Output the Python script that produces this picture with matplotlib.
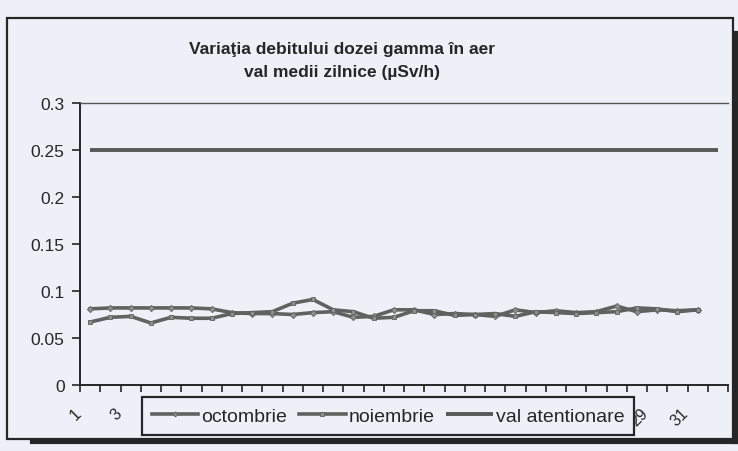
import matplotlib
matplotlib.use('Agg')
import matplotlib.pyplot as plt
import matplotlib.transforms as mtransforms
from matplotlib.patches import Rectangle
from matplotlib.lines import Line2D

# ---------------- data ----------------
categories = list(range(1, 33))          # category slots on the x axis
days = list(range(1, 32))                # days of the month
octombrie = [0.081, 0.082, 0.082, 0.082, 0.082, 0.082, 0.081, 0.077, 0.076, 0.076,
             0.075, 0.077, 0.078, 0.072, 0.073, 0.080, 0.080, 0.075, 0.076, 0.075,
             0.073, 0.080, 0.077, 0.079, 0.077, 0.078, 0.084, 0.078, 0.080, 0.079, 0.080]
noiembrie = [0.067, 0.072, 0.073, 0.066, 0.072, 0.071, 0.071, 0.076, 0.077, 0.078,
             0.087, 0.091, 0.080, 0.078, 0.071, 0.072, 0.079, 0.079, 0.074, 0.075,
             0.076, 0.073, 0.078, 0.077, 0.076, 0.077, 0.078, 0.082, 0.081, 0.078, 0.080]
val_atentionare = [0.25] * 32
x_label_days = list(range(1, 32, 2))
x_tick_labels = [str(d) for d in x_label_days]
y_ticks = [0, 0.05, 0.1, 0.15, 0.2, 0.25, 0.3]
y_tick_labels = ['0', '0.05', '0.1', '0.15', '0.2', '0.25', '0.3']
title = 'Variaţia debitului dozei gamma în aer\nval medii zilnice (µSv/h)'

# ---------------- style ----------------
plt.rcParams['font.family'] = ['Liberation Sans', 'DejaVu Sans']
bg = '#edf1f7'
ink = '#262626'
line_col = '#5f635f'
mark_col = '#8c908c'

W, H = 738, 452
fig = plt.figure(figsize=(W / 100, H / 100), dpi=100)
fig.patch.set_facecolor(bg)

left, right, top, bottom = 80, 728, 104, 386
ax = fig.add_axes([left / W, 1 - bottom / H, (right - left) / W, (bottom - top) / H])
ax.set_facecolor(bg)

ax.plot(categories, val_atentionare, color='#565a56', lw=2.8, solid_capstyle='butt',
        label='val atentionare', zorder=3)
ax.plot(days, octombrie, color=line_col, lw=2.6, marker='D', ms=3.2,
        mfc=mark_col, mec=line_col, mew=0.6, label='octombrie', zorder=4)
ax.plot(days, noiembrie, color=line_col, lw=2.6, marker='s', ms=3.0,
        mfc=mark_col, mec=line_col, mew=0.6, label='noiembrie', zorder=4)

ax.set_xlim(0.5, 32.5)
ax.set_ylim(0, 0.3)

# major ticks at category boundaries, labels drawn at category centres
ax.set_xticks([c - 0.5 for c in categories] + [categories[-1] + 0.5])
ax.set_xticklabels([])
ax.tick_params(axis='x', which='major', direction='out', length=5, width=1.2, color=ink)
lab_tr = ax.get_xaxis_transform() + mtransforms.ScaledTranslation(-6 / 100, -20 / 100,
                                                                   fig.dpi_scale_trans)
for d, s in zip(x_label_days, x_tick_labels):
    ax.text(d, 0, s, transform=lab_tr, rotation=45, ha='right', va='top',
            fontsize=11.5, color=ink, clip_on=False, zorder=2)

ax.set_yticks(y_ticks)
ax.set_yticklabels(y_tick_labels, fontsize=12.5, color=ink)
ax.tick_params(axis='y', direction='out', length=6, width=1.2, color=ink, pad=5)

for s in ('left', 'bottom'):
    ax.spines[s].set_color(ink)
    ax.spines[s].set_linewidth(1.4)
ax.spines['top'].set_color('#555555')
ax.spines['top'].set_linewidth(1.0)
ax.spines['right'].set_visible(False)

# title
fig.text(342 / W, 1 - 61 / H, title, ha='center', va='center', fontsize=12.5,
         fontweight='bold', color=ink, linespacing=1.6)

# legend (drawn over the x tick labels, as in the reference)
order = [1, 2, 0]
handles, labels = ax.get_legend_handles_labels()
leg = fig.legend([handles[i] for i in order], [labels[i] for i in order],
                 loc='center', bbox_to_anchor=(388 / W, 1 - 417 / H), ncol=3,
                 fontsize=14, frameon=True, fancybox=False, handlelength=2.4,
                 handletextpad=0.15, columnspacing=0.6, borderpad=0.5,
                 borderaxespad=0, markerscale=0.8)
leg.get_frame().set_edgecolor(ink)
leg.get_frame().set_linewidth(1.6)
leg.get_frame().set_facecolor(bg)
leg.get_frame().set_alpha(1)
leg.set_zorder(10)
for t in leg.get_texts():
    t.set_color(ink)

# outer chart frame with shadow
fx0, fx1, fy0, fy1 = 7, 733, 19, 440
fig.add_artist(Rectangle((fx0 / W, 1 - fy1 / H), (fx1 - fx0) / W, (fy1 - fy0) / H,
                         transform=fig.transFigure, fill=False, edgecolor=ink, lw=1.6,
                         zorder=20))
fig.add_artist(Line2D([(fx0 + 25) / W, (fx1 + 3) / W], [1 - (fy1 + 2.5) / H, 1 - (fy1 + 2.5) / H],
                      transform=fig.transFigure, color=ink, lw=3, zorder=20))
fig.add_artist(Line2D([(fx1 + 2.5) / W, (fx1 + 2.5) / W], [1 - (fy1 + 3) / H, 1 - (fy0 + 15) / H],
                      transform=fig.transFigure, color=ink, lw=3, zorder=20))

fig.savefig('out.png', dpi=100, facecolor=bg)
